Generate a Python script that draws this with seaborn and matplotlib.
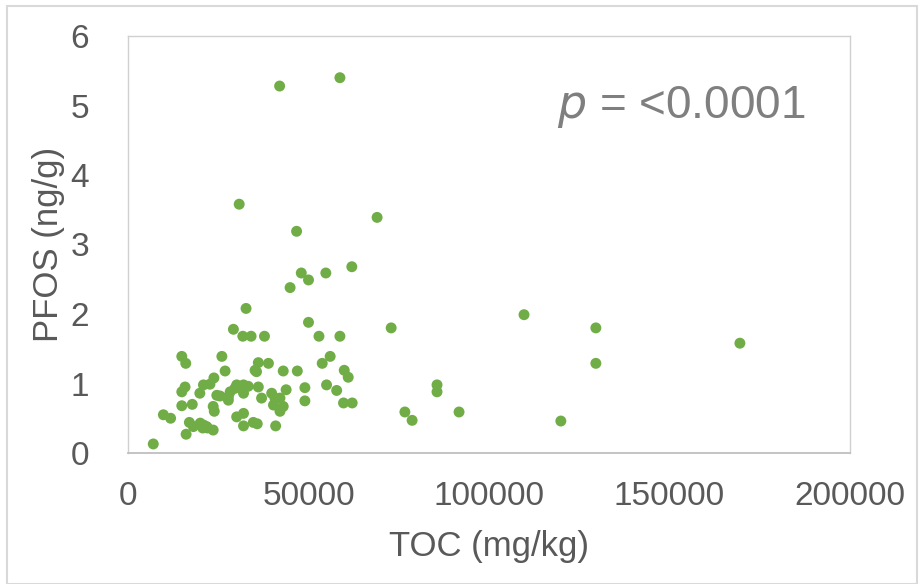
import matplotlib
matplotlib.use("Agg")
import matplotlib.pyplot as plt
import seaborn as sns
import pandas as pd
from matplotlib.patches import Rectangle

toc = [7000, 9800, 11800, 14900, 16000, 15800, 14900, 14900, 17800, 16100,
       17000, 18100, 20000, 20700, 21800, 22000, 23600, 19900, 20900, 22700,
       23800, 23600, 23900, 24600, 25500, 26000, 26900, 27800, 27800, 28300,
       29600, 30100, 32000, 33300, 32000, 30100, 32000, 32000, 34700, 35800,
       36100, 37000, 35200, 35600, 36100, 38900, 39800, 40700, 42100, 40300,
       43000, 42100, 40900, 43800, 43000, 46900, 49000, 49000, 55000, 57800,
       59700, 62100, 59900, 61000, 53800, 56000, 29200, 31800, 34100, 37800,
       32700, 52900, 58700, 50000, 44900, 48000, 50000, 54800, 62000, 46700,
       69000, 30800, 42000, 58700, 72900, 109700, 129600, 129600, 169500, 85600,
       85600, 76700, 78700, 91700, 119900, 21000, 31000, 31500]
pfos = [0.13, 0.55, 0.50, 1.39, 1.29, 0.95, 0.88, 0.68, 0.70, 0.27,
        0.44, 0.38, 0.43, 0.36, 0.38, 0.36, 0.33, 0.86, 0.98, 0.99,
        1.08, 0.67, 0.60, 0.83, 0.82, 1.39, 1.18, 0.81, 0.76, 0.88,
        0.93, 0.98, 0.98, 0.96, 0.86, 0.52, 0.57, 0.39, 0.44, 0.42,
        0.95, 0.79, 1.19, 1.17, 1.30, 1.29, 0.86, 0.79, 0.79, 0.69,
        0.67, 0.60, 0.39, 0.91, 1.18, 1.18, 0.94, 0.75, 0.98, 0.90,
        0.72, 0.72, 1.19, 1.09, 1.29, 1.39, 1.78, 1.68, 1.68, 1.68,
        2.08, 1.68, 1.68, 1.88, 2.38, 2.59, 2.49, 2.59, 2.68, 3.19,
        3.39, 3.58, 5.28, 5.40, 1.80, 1.99, 1.80, 1.29, 1.58, 0.98,
        0.88, 0.59, 0.47, 0.59, 0.46, 0.40, 0.96, 0.92]

x_ticks = [0, 50000, 100000, 150000, 200000]
y_ticks = [0, 1, 2, 3, 4, 5, 6]

df = pd.DataFrame({"TOC": toc, "PFOS": pfos})

sns.set_style("white")
plt.rcParams['font.family'] = ['Liberation Sans', 'DejaVu Sans']

W, H = 922, 584
fig = plt.figure(figsize=(W / 100, H / 100), dpi=100)
ax = fig.add_axes([128 / W, (H - 453) / H, (850 - 128) / W, (453 - 36) / H])

sns.scatterplot(data=df, x="TOC", y="PFOS", ax=ax, color="#70AD47",
                s=62, edgecolor="none", linewidth=0, zorder=3)

ax.set_xlim(0, 200000)
ax.set_ylim(0, 6)
ax.set_xticks(x_ticks)
ax.set_xticklabels([str(v) for v in x_ticks])
ax.set_yticks(y_ticks)
ax.set_yticklabels([str(v) for v in y_ticks])

txt = "#595959"
ax.tick_params(axis="both", length=0, labelsize=24, colors=txt)
ax.tick_params(axis="x", pad=20)
ax.tick_params(axis="y", pad=28)
ax.set_xlabel("TOC (mg/kg)", fontsize=25, color=txt, labelpad=13)
ax.set_ylabel("PFOS (ng/g)", fontsize=25, color=txt, labelpad=4)

for side in ["top", "right", "left"]:
    ax.spines[side].set_color("#d0d0d0")
    ax.spines[side].set_linewidth(1.0)
ax.spines["bottom"].set_color("#bfbfbf")
ax.spines["bottom"].set_linewidth(1.3)

ax.text(0.938, 0.83, r"$\it{p}$ = <0.0001", transform=ax.transAxes,
        ha="right", va="center", fontsize=33, color="#7f7f7f")

fig.patches.append(Rectangle((7 / W, 0.5 / H), (917 - 7) / W, (H - 6.5) / H,
                             transform=fig.transFigure, fill=False,
                             edgecolor="#d9d9d9", linewidth=1.5))

fig.savefig("out.png", dpi=100, facecolor="white")
